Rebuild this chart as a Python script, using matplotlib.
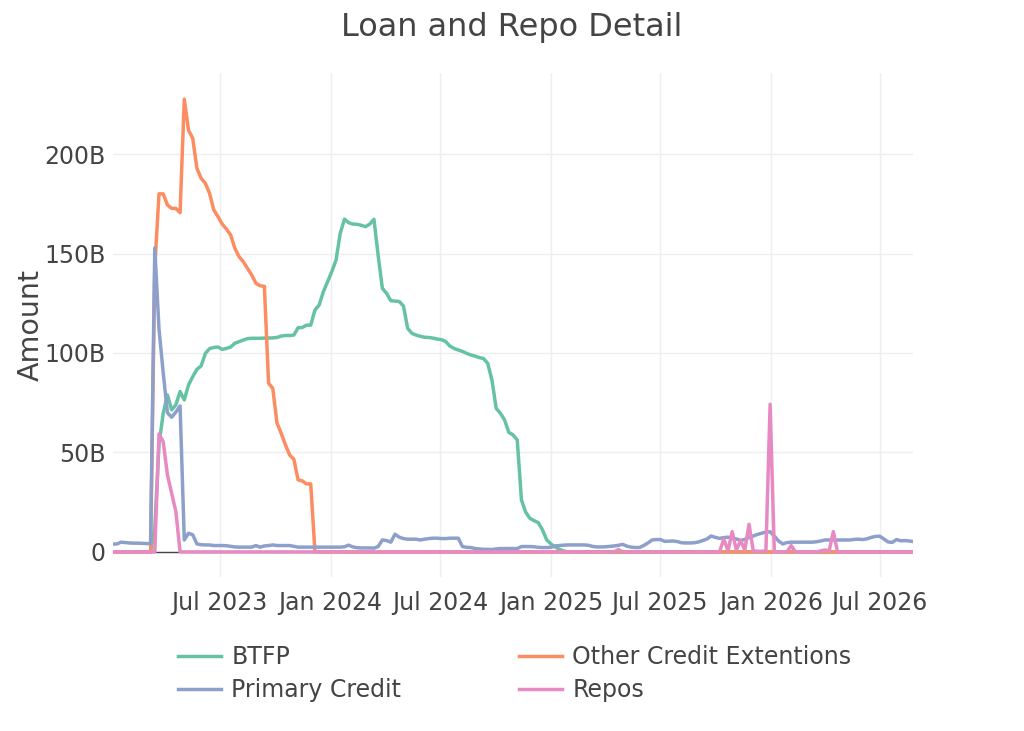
import matplotlib

matplotlib.use("Agg")

import matplotlib.dates as mdates
import matplotlib.pyplot as plt
import pandas as pd
from matplotlib.ticker import FuncFormatter

# weekly (Wednesday) levels, billions of dollars
dates = pd.date_range("2023-01-04", "2026-08-26", freq="W-WED")

btfp = [
    0, 0, 0, 0, 0, 0, 0, 0, 0, 0,
    12, 54, 69.7, 78.9, 71.4, 73.9, 80.6, 76.4, 83.9, 88.1,
    91.8, 93.5, 99.8, 102.2, 102.8, 103, 101.8, 102.3, 103, 104.9,
    105.7, 106.5, 107.2, 107.4, 107.4, 107.4, 107.5, 107.5, 107.6, 107.8,
    108.5, 108.8, 108.8, 109, 112.7, 112.8, 114, 114, 121.6, 124.1,
    130.8, 135.8, 140.9, 146.7, 160.1, 167.3, 165.5, 164.8, 164.7, 164.2,
    163.5, 164.8, 167.2, 149, 132.5, 130, 126.3, 126.1, 125.9, 123.6,
    112.4, 109.9, 109, 108.4, 107.9, 107.8, 107.5, 107, 106.7, 105.8,
    103.5, 102.3, 101.5, 100.8, 99.8, 99, 98.4, 97.7, 97.2, 94.8,
    86.4, 72.2, 69.7, 66.3, 60.1, 58.8, 56.3, 26.1, 20, 16.9,
    15.7, 14.7, 11, 6, 4, 2.5, 1.3, 0.5, 0, 0,
    0, 0, 0, 0, 0, 0, 0, 0, 0, 0,
    0, 0, 0, 0, 0, 0, 0, 0, 0, 0,
    0, 0, 0, 0, 0, 0, 0, 0, 0, 0,
    0, 0, 0, 0, 0, 0, 0, 0, 0, 0,
    0, 0, 0, 0, 0, 0, 0, 0, 0, 0,
    0, 0, 0, 0, 0, 0, 0, 0, 0, 0,
    0, 0, 0, 0, 0, 0, 0, 0, 0, 0,
    0, 0, 0, 0, 0, 0, 0, 0, 0, 0,
    0,
]

other_credit = [
    0, 0, 0, 0, 0, 0, 0, 0, 0, 0,
    143, 180, 180, 174.4, 172.7, 172.7, 170.5, 227.6, 212, 207.9,
    192.8, 187.8, 185.3, 180.2, 171.9, 168.5, 164.8, 162.3, 159.3, 152.6,
    148.4, 145.9, 142.5, 139.2, 135, 133.8, 133.5, 84.8, 82.2, 64.7,
    59.6, 53.8, 48.7, 46.6, 36.2, 35.7, 34.2, 34.2, 0, 0,
    0, 0, 0, 0, 0, 0, 0, 0, 0, 0,
    0, 0, 0, 0, 0, 0, 0, 0, 0, 0,
    0, 0, 0, 0, 0, 0, 0, 0, 0, 0,
    0, 0, 0, 0, 0, 0, 0, 0, 0, 0,
    0, 0, 0, 0, 0, 0, 0, 0, 0, 0,
    0, 0, 0, 0, 0, 0, 0, 0, 0, 0,
    0, 0, 0, 0, 0, 0, 0, 0, 0, 0,
    0, 0, 0, 0, 0, 0, 0, 0, 0, 0,
    0, 0, 0, 0, 0, 0, 0, 0, 0, 0,
    0, 0, 0, 0, 0, 0, 0, 0, 0, 0,
    0, 0, 0, 0, 0, 0, 0, 0, 0, 0,
    0, 0, 0, 0, 0, 0, 0, 0, 0, 0,
    0, 0, 0, 0, 0, 0, 0, 0, 0, 0,
    0, 0, 0, 0, 0, 0, 0, 0, 0, 0,
    0,
]

primary_credit = [
    3.9, 4.0, 4.9, 4.7, 4.5, 4.4, 4.4, 4.3, 4.2, 4.1,
    152.8, 112, 90, 70, 67.7, 70.3, 73.4, 6.0, 9.4, 8.6,
    4.0, 3.6, 3.5, 3.5, 3.2, 3.2, 3.2, 3.1, 2.8, 2.5,
    2.4, 2.4, 2.4, 2.4, 3.2, 2.4, 3.0, 3.2, 3.5, 3.2,
    3.2, 3.2, 3.2, 2.8, 2.4, 2.4, 2.4, 2.4, 2.4, 2.4,
    2.4, 2.4, 2.4, 2.4, 2.4, 2.6, 3.4, 2.5, 2.1, 2.0,
    2.0, 2.0, 1.9, 2.7, 6.0, 5.7, 4.9, 8.9, 7.4, 6.7,
    6.4, 6.4, 6.4, 6.0, 6.4, 6.7, 6.9, 6.9, 6.7, 6.7,
    6.9, 6.9, 6.9, 2.7, 2.3, 2.2, 1.7, 1.5, 1.3, 1.3,
    1.2, 1.5, 1.7, 1.7, 1.7, 1.7, 1.7, 2.7, 2.7, 2.7,
    2.6, 2.3, 2.2, 2.2, 2.3, 3.0, 3.2, 3.4, 3.5, 3.5,
    3.5, 3.5, 3.5, 3.3, 2.7, 2.5, 2.5, 2.6, 2.8, 3.0,
    3.3, 3.8, 2.9, 2.4, 2.2, 2.2, 3.2, 4.5, 6.0, 6.2,
    6.2, 5.3, 5.4, 5.5, 5.2, 4.6, 4.5, 4.5, 4.6, 5.0,
    5.7, 6.5, 8.0, 7.3, 6.8, 7.2, 7.4, 7.0, 6.5, 5.8,
    6.3, 7.2, 8.0, 8.8, 9.4, 10.0, 10.1, 8.0, 5.5, 4.0,
    4.7, 4.9, 4.9, 4.9, 4.9, 4.9, 4.9, 5.1, 5.5, 6.0,
    6.0, 6.0, 6.0, 6.0, 6.0, 6.0, 6.3, 6.4, 6.2, 6.6,
    7.3, 7.8, 7.9, 6.5, 5.0, 4.8, 6.2, 5.6, 5.7, 5.5,
    5.2,
]

repos = [
    0, 0, 0, 0, 0, 0, 0, 0, 0, 0,
    0, 59.3, 55.4, 38.7, 29.5, 20.3, 0, 0, 0, 0,
    0, 0, 0, 0, 0, 0, 0, 0, 0, 0,
    0, 0, 0, 0, 0, 0, 0, 0, 0, 0,
    0, 0, 0, 0, 0, 0, 0, 0, 0, 0,
    0, 0, 0, 0, 0, 0, 0, 0, 0, 0,
    0, 0, 0, 0, 0, 0, 0, 0, 0, 0,
    0, 0, 0, 0, 0, 0, 0, 0, 0, 0,
    0, 0, 0, 0, 0, 0, 0, 0, 0, 0,
    0, 0, 0, 0, 0, 0, 0, 0, 0, 0,
    0, 0, 0, 0, 0, 0, 0, 0, 0, 0,
    0, 0, 0, 0, 0, 0, 0, 0, 0, 0,
    1.2, 0, 0, 0, 0, 0, 0, 0, 0, 0,
    0, 0, 0, 0, 0, 0, 0, 0, 0, 0,
    0, 0, 0, 0, 0, 6.5, 0.5, 10.2, 1.0, 5.7,
    1.0, 13.9, 0.5, 0.3, 0.3, 0.5, 74.2, 0, 0, 0,
    0, 3.2, 0, 0, 0, 0, 0, 0, 0.5, 1.0,
    0.5, 10.2, 0, 0, 0, 0, 0, 0, 0, 0,
    0, 0, 0, 0, 0, 0, 0, 0, 0, 0,
    0,
]

series = [
    ("BTFP", btfp, "#66c2a5"),
    ("Other Credit Extentions", other_credit, "#fc8d62"),
    ("Primary Credit", primary_credit, "#8da0cb"),
    ("Repos", repos, "#e78ac3"),
]

plt.rcParams["font.family"] = ["DejaVu Sans"]
text_color = "#444444"

fig = plt.figure(figsize=(10.24, 7.31), dpi=100)
ax = fig.add_axes([0.110, 0.2107, 0.782, 0.6893])

ax.axhline(0, color=text_color, linewidth=1, zorder=1)

handles = {}
for name, values, color in series:
    (line,) = ax.plot(
        dates,
        values,
        color=color,
        linewidth=2.5,
        label=name,
        zorder=2,
    )
    handles[name] = line

ax.set_xlim(dates[0], dates[-1])
ax.set_ylim(-12.6, 240.7)

ax.set_yticks([0, 50, 100, 150, 200])
ax.yaxis.set_major_formatter(
    FuncFormatter(lambda v, pos: "0" if v == 0 else f"{v:.0f}B")
)
ax.xaxis.set_major_locator(mdates.MonthLocator(bymonth=[1, 7]))
ax.xaxis.set_major_formatter(mdates.DateFormatter("%b %Y"))

ax.grid(True, color="#eeeeee", linewidth=1)
ax.set_axisbelow(True)
for spine in ax.spines.values():
    spine.set_visible(False)

ax.tick_params(axis="both", length=0, labelsize=17, labelcolor=text_color)
ax.tick_params(axis="y", pad=5)
ax.tick_params(axis="x", pad=10)

ax.set_ylabel("Amount", fontsize=20.5, color=text_color, labelpad=0)

fig.suptitle(
    "Loan and Repo Detail",
    x=0.5,
    y=0.984,
    fontsize=23,
    color=text_color,
    va="top",
)

order = ["BTFP", "Primary Credit", "Other Credit Extentions", "Repos"]
fig.legend(
    [handles[n] for n in order],
    order,
    loc="upper left",
    bbox_to_anchor=(0.174, 0.117),
    ncol=2,
    frameon=False,
    fontsize=17,
    labelcolor=text_color,
    handlelength=1.8,
    handletextpad=0.45,
    columnspacing=5.0,
    labelspacing=0.38,
    borderpad=0,
    borderaxespad=0,
)

fig.savefig("out.png", dpi=100)
plt.close(fig)
